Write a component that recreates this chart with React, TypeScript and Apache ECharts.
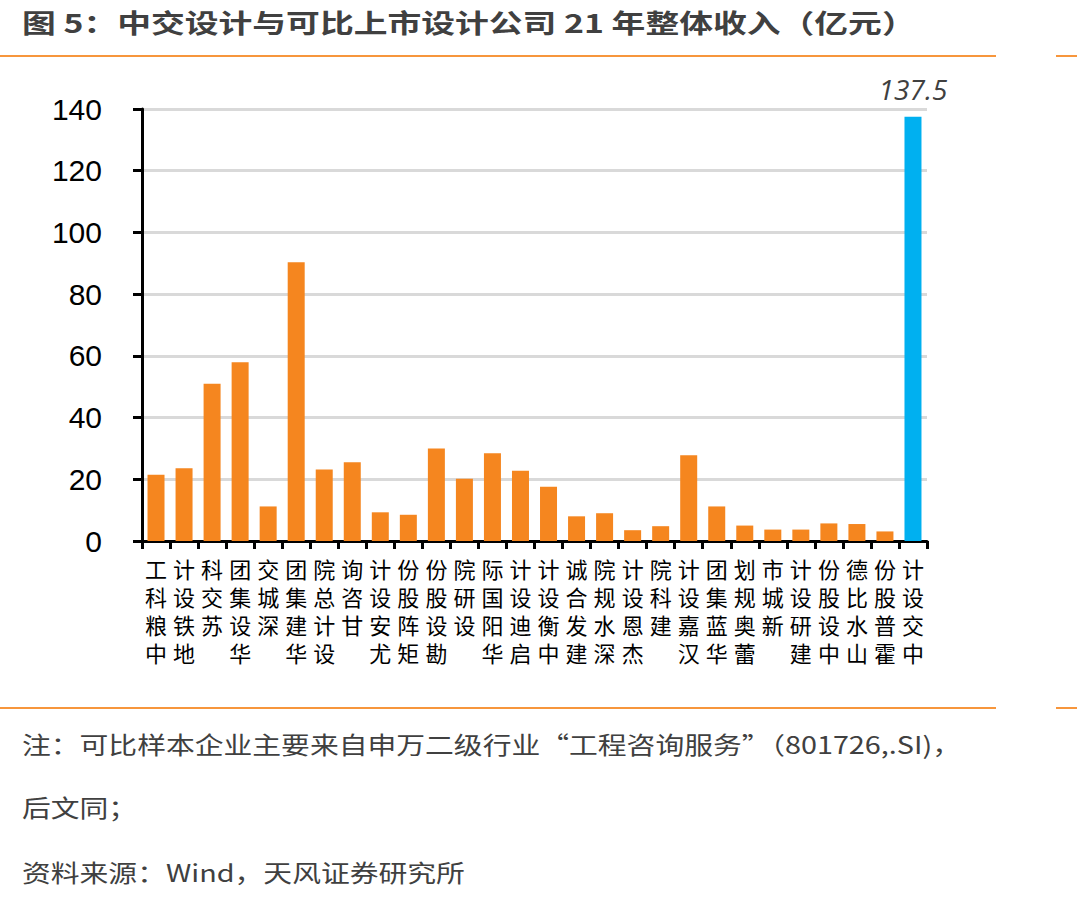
import React, { useEffect, useRef } from "react";
import * as echarts from "echarts";

const categories: string[] = [
  "中粮科工", "地铁设计", "苏交科", "华设集团", "深城交", "华建集团", "设计总院",
  "甘咨询", "尤安设计", "矩阵股份", "勘设股份", "设研院", "华阳国际", "启迪设计",
  "中衡设计", "建发合诚", "深水规院", "杰恩设计", "建科院", "汉嘉设计", "华蓝集团",
  "蕾奥规划", "新城市", "建研设计", "中设股份", "山水比德", "霍普股份", "中交设计",
];

const revenue: number[] = [
  21.5, 23.6, 51.0, 57.9, 11.2, 90.3, 23.2,
  25.5, 9.3, 8.5, 30.0, 20.2, 28.4, 22.8,
  17.6, 8.0, 9.0, 3.5, 4.8, 27.8, 11.2,
  5.0, 3.7, 3.7, 5.7, 5.5, 3.1, 137.5,
];

const highlightName = "中交设计";
const yTicks = { min: 0, max: 140, interval: 20 };

const titleText = "图 5：中交设计与可比上市设计公司 21 年整体收入（亿元）";
const noteLines: string[] = [
  "注：可比样本企业主要来自申万二级行业“工程咨询服务”（801726,.SI)，",
  "后文同；",
  "资料来源：Wind，天风证券研究所",
];

const ORANGE = "#f5861f";
const BLUE = "#00b0f0";
const RULE = "#f7963c";
const TEXT = "#404040";

export default function App() {
  const ref = useRef<HTMLDivElement>(null);

  useEffect(() => {
    if (!ref.current) return;
    const chart = echarts.init(ref.current, undefined, { renderer: "svg" });

    const data = revenue.map((v, i) =>
      categories[i] === highlightName
        ? {
            value: v,
            itemStyle: { color: BLUE },
            label: {
              show: true,
              position: "top",
              distance: 14,
              formatter: "{c}",
              fontFamily: "Open Sans",
              fontStyle: "italic",
              fontSize: 28,
              color: TEXT,
            },
          }
        : v
    );

    chart.setOption({
      animation: false,
      backgroundColor: "#ffffff",
      grid: { left: 142, right: 150, top: 109, bottom: 360, containLabel: false },
      xAxis: {
        type: "category",
        data: categories,
        axisLine: { lineStyle: { color: "#000", width: 3 } },
        axisTick: { show: true, length: 8, lineStyle: { color: "#000", width: 3 } },
        axisLabel: {
          interval: 0,
          margin: 15,
          fontSize: 22,
          lineHeight: 28,
          color: "#000",
          fontFamily: "'Liberation Sans', 'Noto Sans CJK SC'",
          verticalAlign: "top",
          formatter: (s: string) => s.split("").reverse().join("\n"),
        },
      },
      yAxis: {
        type: "value",
        min: yTicks.min,
        max: yTicks.max,
        interval: yTicks.interval,
        axisLine: { show: true, lineStyle: { color: "#000", width: 3 } },
        axisTick: { show: true, length: 9, lineStyle: { color: "#000", width: 3 } },
        axisLabel: {
          margin: 40,
          fontSize: 30,
          color: "#000",
          fontFamily: "Liberation Sans",
        },
        splitLine: { lineStyle: { color: "#d9d9d9", width: 3 } },
      },
      series: [
        {
          type: "bar",
          data,
          barWidth: 17,
          itemStyle: { color: ORANGE },
        },
      ],
      graphic: [
        {
          type: "text",
          x: 22,
          y: 22,
          scaleX: 1.3,
          style: {
            text: titleText,
            fontFamily: "Noto Sans CJK SC",
            fontWeight: "bold",
            fontSize: 26,
            fill: TEXT,
            textVerticalAlign: "middle",
          },
        },
        { type: "rect", shape: { x: 0, y: 55, width: 996, height: 2 }, style: { fill: RULE } },
        { type: "rect", shape: { x: 1056, y: 55, width: 21, height: 2 }, style: { fill: RULE } },
        { type: "rect", shape: { x: 0, y: 707, width: 996, height: 2 }, style: { fill: RULE } },
        { type: "rect", shape: { x: 1056, y: 707, width: 21, height: 2 }, style: { fill: RULE } },
        ...noteLines.map((t, i) => ({
          type: "text",
          x: 22,
          y: [744, 807, 872][i],
          scaleX: 1.2,
          style: {
            text: t,
            fontFamily: "Noto Sans CJK SC",
            fontSize: 24,
            fill: TEXT,
            textVerticalAlign: "middle",
          },
        })),
      ],
    });

    return () => chart.dispose();
  }, []);

  return (
    <div
      ref={ref}
      style={{ position: "absolute", left: 0, top: 0, width: 1077, height: 901, background: "#fff" }}
    />
  );
}
